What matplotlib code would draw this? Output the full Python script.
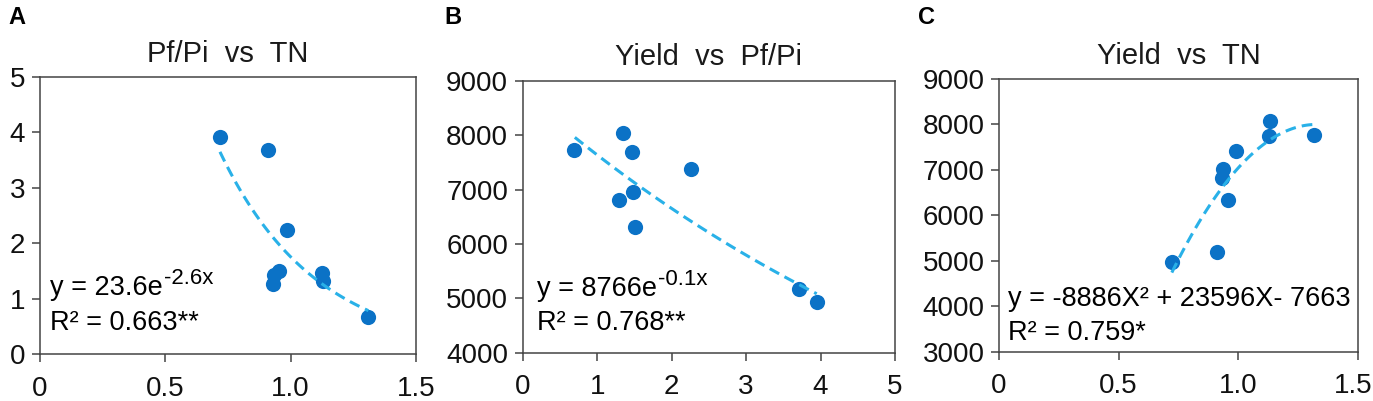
import numpy as np
import matplotlib
matplotlib.use("Agg")
import matplotlib.pyplot as plt
from matplotlib.transforms import ScaledTranslation

# panel A: Pf/Pi vs TN
tn_a = [0.718, 0.911, 0.987, 0.955, 0.933, 0.931, 1.126, 1.13, 1.31]
pfpi_a = [3.92, 3.69, 2.24, 1.49, 1.43, 1.26, 1.46, 1.31, 0.66]
fit_a = [23.6, -2.6]

# panel B: Yield vs Pf/Pi
pfpi_b = [0.69, 1.343, 1.468, 2.256, 1.477, 1.297, 1.512, 3.715, 3.948]
yield_b = [7726, 8044, 7695, 7371, 6948, 6800, 6305, 5165, 4938]
fit_b = [8766, -0.138]

# panel C: Yield vs TN
tn_c = [0.722, 0.912, 0.937, 0.933, 0.956, 0.99, 1.132, 1.13, 1.316]
yield_c = [4967, 5200, 7013, 6815, 6338, 7416, 8076, 7746, 7768]
fit_c = [-8886, 23596, -7663]

titles = ["Pf/Pi  vs  TN", "Yield  vs  Pf/Pi", "Yield  vs  TN"]
letters = ["A", "B", "C"]

plt.rcParams["font.family"] = ["Liberation Sans", "DejaVu Sans"]

DOT = "#0b72c6"
LINE = "#29b1e8"
FRAME = "#444444"
EQ_SIZE = 19.5

fig = plt.figure(figsize=(13.73, 4.01), dpi=100)
ax_a = fig.add_axes([0.0291, 0.1172, 0.2739, 0.6908])
ax_b = fig.add_axes([0.3807, 0.1204, 0.2712, 0.6783])
ax_c = fig.add_axes([0.7276, 0.1229, 0.2615, 0.6800])


def style(ax, title, xlim, xticks, xlabels, ylim, yticks):
    ax.set_xlim(*xlim)
    ax.set_ylim(*ylim)
    ax.set_xticks(xticks)
    ax.set_xticklabels(xlabels)
    ax.set_yticks(yticks)
    for s in ax.spines.values():
        s.set_color(FRAME)
        s.set_linewidth(1.1)
    ax.tick_params(axis="both", direction="out", length=6, width=1.1,
                   color=FRAME, labelcolor="#111111")
    ax.tick_params(axis="x", labelsize=20, pad=9.5)
    ax.tick_params(axis="y", labelsize=20, pad=4.5)
    ax.set_title(title, fontsize=21, color="#1a1a1a", pad=11)


def equation(ax, x, y, main, sup, r2):
    t = ax.text(x, y, main, transform=ax.transAxes, fontsize=EQ_SIZE,
                va="baseline")
    if sup:
        ax.annotate(sup, xy=(1, 1), xycoords=t, xytext=(0.5, 5),
                    textcoords="offset points", fontsize=16, va="top")
    ax.text(x, y - 0.125, r2, transform=ax.transAxes, fontsize=EQ_SIZE,
            va="baseline")


# A
ax_a.scatter(tn_a, pfpi_a, s=120, color=DOT, zorder=2, linewidths=0)
xa = np.linspace(min(tn_a), max(tn_a), 100)
ax_a.plot(xa, fit_a[0] * np.exp(fit_a[1] * xa), color=LINE, lw=2.2,
          dashes=(3.5, 2), zorder=3)
style(ax_a, titles[0], (0, 1.5), [0, 0.5, 1.0, 1.5], ["0", "0.5", "1.0", "1.5"],
      (0, 5), [0, 1, 2, 3, 4, 5])
equation(ax_a, 0.027, 0.213, "y = 23.6e", "-2.6x", "R² = 0.663**")

# B
ax_b.scatter(pfpi_b, yield_b, s=120, color=DOT, zorder=2, linewidths=0)
xb = np.linspace(0.7, max(pfpi_b), 100)
ax_b.plot(xb, fit_b[0] * np.exp(fit_b[1] * xb), color=LINE, lw=2.2,
          dashes=(3.5, 2), zorder=3)
style(ax_b, titles[1], (0, 5), [0, 1, 2, 3, 4, 5], ["0", "1", "2", "3", "4", "5"],
      (4000, 9000), [4000, 5000, 6000, 7000, 8000, 9000])
equation(ax_b, 0.038, 0.208, "y = 8766e", "-0.1x", "R² = 0.768**")

# C
ax_c.scatter(tn_c, yield_c, s=120, color=DOT, zorder=2, linewidths=0)
xc = np.linspace(min(tn_c), 1.313, 100)
ax_c.plot(xc, np.polyval(fit_c, xc), color=LINE, lw=2.2,
          dashes=(3.5, 2), zorder=3)
style(ax_c, titles[2], (0, 1.5), [0, 0.5, 1.0, 1.5], ["0", "0.5", "1.0", "1.5"],
      (3000, 9000), [3000, 4000, 5000, 6000, 7000, 8000, 9000])
equation(ax_c, 0.025, 0.168, "y = -8886X² + 23596X- 7663", None, "R² = 0.759*")

# keep the last x label of C inside the canvas
last = ax_c.get_xticklabels()[-1]
last.set_transform(last.get_transform()
                   + ScaledTranslation(-5 / 100, 0, fig.dpi_scale_trans))

# panel letters
for x, lab in zip([8 / 1373, 444 / 1373, 918 / 1373], letters):
    fig.text(x, 1 - 24 / 401, lab, fontsize=17, fontweight="bold", va="baseline")

fig.savefig("out.png", dpi=100)
